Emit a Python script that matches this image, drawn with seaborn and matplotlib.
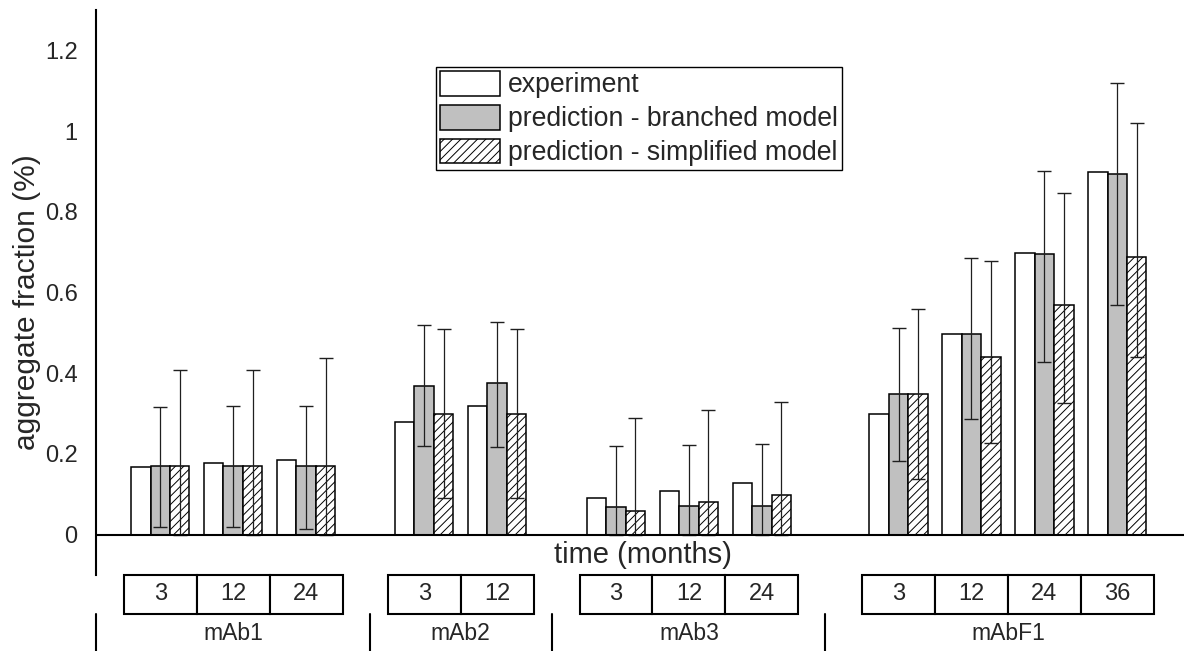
import numpy as np
import pandas as pd
import matplotlib
matplotlib.use("Agg")
import matplotlib.pyplot as plt
import matplotlib.transforms as mtransforms
from matplotlib.patches import Rectangle
from matplotlib.lines import Line2D
from matplotlib.ticker import FuncFormatter, MultipleLocator
import seaborn as sns

# ---- data -------------------------------------------------------------
antibodies = ["mAb1", "mAb2", "mAb3", "mAbF1"]
months = [[3, 12, 24], [3, 12], [3, 12, 24], [3, 12, 24, 36]]
series = ["experiment", "prediction - branched model", "prediction - simplified model"]

experiment = [0.167, 0.178, 0.184, 0.280, 0.320, 0.090, 0.109, 0.129,
              0.298, 0.498, 0.699, 0.898]
branched = [0.170, 0.170, 0.170, 0.369, 0.375, 0.069, 0.070, 0.071,
            0.349, 0.498, 0.696, 0.894]
simplified = [0.170, 0.170, 0.170, 0.300, 0.300, 0.058, 0.080, 0.098,
              0.349, 0.439, 0.568, 0.687]

# error-bar limits (lower limits below the baseline are clipped to 0)
branched_low = [0.018, 0.018, 0.015, 0.219, 0.216, 0.0, 0.0, 0.0,
                0.183, 0.287, 0.428, 0.568]
branched_high = [0.317, 0.318, 0.318, 0.520, 0.528, 0.219, 0.221, 0.224,
                 0.513, 0.686, 0.900, 1.120]
simplified_low = [0.0, 0.0, 0.0, 0.090, 0.090, 0.0, 0.0, 0.0,
                  0.139, 0.228, 0.327, 0.439]
simplified_high = [0.407, 0.407, 0.438, 0.510, 0.510, 0.288, 0.308, 0.328,
                   0.559, 0.677, 0.847, 1.019]

# ---- layout of the category axis ------------------------------------
group_start = [0.0, 3.62, 6.25, 10.125]
separators = [2.878, 5.374, 9.12]
x_left, x_right = -0.874, 14.04

positions = []
for start, mlist in zip(group_start, months):
    positions += [start + i for i in range(len(mlist))]

df = pd.DataFrame({
    "pos": np.tile(positions, 3),
    "value": experiment + branched + simplified,
    "series": np.repeat(series, len(positions)),
})

# ---- style ------------------------------------------------------------
sns.set_style("white")
plt.rcParams["font.family"] = ["Liberation Sans", "DejaVu Sans"]
plt.rcParams["hatch.linewidth"] = 0.7

W, H = 1184, 651
fig = plt.figure(figsize=(W / 100, H / 100), dpi=100)
ax = fig.add_axes([96.5 / W, 1 - 575 / H, (W - 96.5) / W, 565 / H])

sns.barplot(data=df, x="pos", y="value", hue="series", hue_order=series,
            palette=["white", "#c0c0c0", "white"], native_scale=True,
            saturation=1, width=0.8, edgecolor="black", linewidth=1.1,
            errorbar=None, legend=False, ax=ax, zorder=2)

for bar in ax.containers[2]:
    bar.set_hatch("////")

# error bars on the two prediction series
for cont, low, high in [(ax.containers[1], branched_low, branched_high),
                        (ax.containers[2], simplified_low, simplified_high)]:
    bars = sorted(cont.patches, key=lambda p: p.get_x())
    xc = np.array([b.get_x() + b.get_width() / 2 for b in bars])
    val = np.array([b.get_height() for b in bars])
    low = np.array(low)
    high = np.array(high)
    ax.errorbar(xc, val, yerr=[val - low, high - val], fmt="none",
                ecolor="#1f1f1f", elinewidth=0.9, capsize=5, capthick=1.0,
                zorder=3)

ax.axhline(0, color="black", lw=1.5, zorder=4)

# axes
ax.set_xlim(x_left, x_right)
ax.set_ylim(-0.1, 1.3)
ax.set_xticks([])
ax.set_xlabel("")
ax.set_yticks(np.round(np.arange(0, 1.21, 0.2), 1))
ax.yaxis.set_minor_locator(MultipleLocator(0.1))
ax.yaxis.set_major_formatter(FuncFormatter(lambda v, _: f"{v:g}"))
ax.tick_params(axis="y", which="major", direction="out", length=7.5,
               width=1.5, labelsize=17, pad=6, color="black")
ax.tick_params(axis="y", which="minor", direction="out", length=4.3,
               width=1.5, color="black")
for side in ["top", "right", "bottom"]:
    ax.spines[side].set_visible(False)
ax.spines["left"].set_linewidth(1.5)
ax.spines["left"].set_color("black")

ax.set_ylabel("aggregate fraction (%)", fontsize=21.5)
ax.yaxis.label.set_va("center")
ax.yaxis.set_label_coords(-0.064, (575 - 302) / 565)

ax.text((643 - 96.5) / (W - 96.5), 1 - 555 / H, "time (months)",
        transform=mtransforms.blended_transform_factory(ax.transAxes, fig.transFigure),
        ha="center", va="center", fontsize=21)

# legend
leg = ax.legend(handles=list(ax.containers[:3]), labels=series,
                loc="upper left", bbox_to_anchor=((436 - 96.5) / (W - 96.5), (575 - 67) / 565),
                borderaxespad=0, fontsize=19.2, frameon=True, fancybox=False,
                edgecolor="black", framealpha=1, handlelength=2.25,
                handleheight=1.05, handletextpad=0.3, labelspacing=0.24,
                borderpad=0.15)
leg.get_frame().set_linewidth(1.0)

# month boxes and antibody labels below the axis
trans = mtransforms.blended_transform_factory(ax.transData, fig.transFigure)
box_top, box_bot = 1 - 575 / H, 1 - 614 / H
for start, name, mlist in zip(group_start, antibodies, months):
    for i, m in enumerate(mlist):
        xc = start + i
        fig.add_artist(Rectangle((xc - 0.5, box_bot), 1.0, box_top - box_bot,
                                 transform=trans, facecolor="white",
                                 edgecolor="black", lw=1.5, clip_on=False))
        fig.text(xc, 1 - 594.5 / H, str(m), transform=trans,
                 ha="center", va="center", fontsize=17)
    mid = start + (len(mlist) - 1) / 2
    fig.text(mid, 1 - 633.5 / H, name, transform=trans,
             ha="center", va="center", fontsize=16.5)

for xs in [x_left] + separators:
    fig.add_artist(Line2D([xs, xs], [box_bot, 0], transform=trans,
                          color="black", lw=1.5, clip_on=False))

fig.savefig("out.png", dpi=100)
